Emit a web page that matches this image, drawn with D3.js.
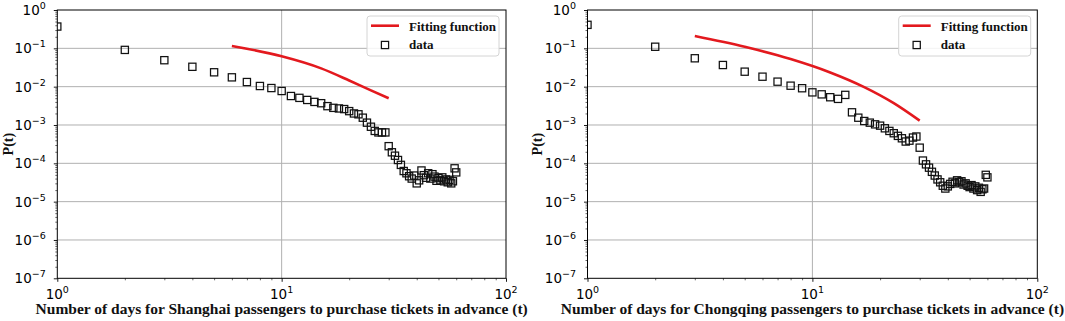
<!DOCTYPE html>
<html><head><meta charset="utf-8">
<script src="https://cdn.jsdelivr.net/npm/d3@7"></script>
<style>body{margin:0;background:#fff}</style>
</head><body><svg id="c" width="1065" height="321" xmlns="http://www.w3.org/2000/svg"></svg>
<script>
// ---------- data ----------
const days = [1,2,3,4,5,6,7,8,9,10,11,12,13,14,15,16,17,18,19,20,21,22,23,24,25,26,27,28,29,30,
              31,32,33,34,35,36,37,38,39,40,41,42,43,44,45,46,47,48,49,50,51,52,53,54,55,56,57,58,59,60];
const shanghaiP = [0.37,0.091,0.049,0.033,0.0237,0.0175,0.0132,0.0104,0.0092,0.0077,
  0.0057,0.0051,0.0045,0.0040,0.0037,0.0031,0.0028,0.0027,0.0026,0.0023,
  0.0020,0.0019,0.00155,0.00115,0.0009,0.0007,0.00064,0.00064,0.00064,0.00028,
  0.000194,0.000158,0.000122,0.000091,0.000063,0.000055,0.000046,0.000040,0.000048,0.000030,
  0.000036,0.000065,0.000049,0.000042,0.000055,0.000040,0.000052,0.000045,0.000035,0.000041,
  0.000036,0.000043,0.000034,0.000038,0.000032,0.000037,0.000030,0.000034,0.000074,0.000058];
const chongqingP = [0.41,0.11,0.055,0.0367,0.0246,0.0182,0.0135,0.0106,0.0091,0.0071,
  0.0063,0.0053,0.0048,0.0061,0.00214,0.00155,0.00127,0.00115,0.00104,0.00096,
  0.00082,0.0007,0.00061,0.00052,0.00045,0.00037,0.00039,0.00047,0.00050,0.000256,
  0.000118,0.000094,0.000077,0.000060,0.000048,0.000038,0.000032,0.000026,0.000022,0.000025,
  0.000029,0.000033,0.000030,0.000036,0.000032,0.000034,0.000028,0.000030,0.000026,0.000024,
  0.000027,0.000022,0.000025,0.000020,0.000023,0.000018,0.000021,0.000022,0.000050,0.000043];
const shanghaiFitT = [6,10,15,20,25,30];
const shanghaiFitP = [0.115,0.062,0.030,0.0145,0.0080,0.0050];
const chongqingFitT = [3,5,8,12,17,23,30];
const chongqingFitP = [0.21,0.110,0.0526,0.0235,0.00975,0.00372,0.0013];
const xTickVals = [1,10,100];
const xTickExps = ["0","1","2"];
const yTickVals = [1,1e-1,1e-2,1e-3,1e-4,1e-5,1e-6,1e-7];
const yTickExps = ["0","\u22121","\u22122","\u22123","\u22124","\u22125","\u22126","\u22127"];
const cities = ["Shanghai","Chongqing"];
const legendLabels = ["Fitting function","data"];
const yLabel = "P(t)";

// ---------- drawing ----------
const svg = d3.select("#c");
const panels = [
  {x0:57.3, x1:506, t:days, p:shanghaiP, ft:shanghaiFitT, fp:shanghaiFitP, city:cities[0], lx:367, ylx:12.5},
  {x0:587.5, x1:1037.3, t:days, p:chongqingP, ft:chongqingFitT, fp:chongqingFitP, city:cities[1], lx:898.7, ylx:542}
];
const y0 = 10, y1 = 278.3;
const red = "#e3191e";
const tickFont = "'DejaVu Sans', sans-serif";
const serif = "'Liberation Serif', 'Times New Roman', serif";

panels.forEach((P, i) => {
  const x = d3.scaleLog().domain([1,100]).range([P.x0, P.x1]);
  const y = d3.scaleLog().domain([1e-7,1]).range([y1, y0]);
  const g = svg.append("g");
  const clipId = "clip" + i;
  svg.append("clipPath").attr("id", clipId).append("rect")
    .attr("x", P.x0).attr("y", y0).attr("width", P.x1 - P.x0).attr("height", y1 - y0);

  // grid
  const grid = g.append("g").attr("stroke", "#b0b0b0").attr("stroke-width", 1);
  xTickVals.forEach(v => {
    const px = x(v);
    if (px > P.x0 + 1 && px < P.x1 - 1)
      grid.append("line").attr("x1", px).attr("x2", px).attr("y1", y0).attr("y2", y1);
  });
  yTickVals.forEach(v => {
    const py = y(v);
    if (py > y0 + 1 && py < y1 - 1)
      grid.append("line").attr("x1", P.x0).attr("x2", P.x1).attr("y1", py).attr("y2", py);
  });

  // axes via d3
  const minorX = [];
  [1,10].forEach(d => { for (let k = 2; k <= 9; k++) minorX.push(k * d); });
  const minorY = [];
  for (let e = -7; e < 0; e++) for (let k = 2; k <= 9; k++) minorY.push(k * Math.pow(10, e));

  const xAxisMinor = d3.axisBottom(x).tickValues(minorX).tickSize(2).tickFormat("");
  const xAxisMajor = d3.axisBottom(x).tickValues(xTickVals).tickSize(3.5).tickFormat("");
  const yAxisMinor = d3.axisLeft(y).tickValues(minorY).tickSize(2).tickFormat("");
  const yAxisMajor = d3.axisLeft(y).tickValues(yTickVals).tickSize(3.5).tickFormat("");
  [[xAxisMinor,0.6],[xAxisMajor,0.9]].forEach(([ax,w]) => {
    const a = g.append("g").attr("transform", `translate(0,${y1})`).call(ax);
    a.select(".domain").remove();
    a.selectAll("line").attr("stroke", "#000").attr("stroke-width", w);
  });
  [[yAxisMinor,0.6],[yAxisMajor,0.9]].forEach(([ax,w]) => {
    const a = g.append("g").attr("transform", `translate(${P.x0},0)`).call(ax);
    a.select(".domain").remove();
    a.selectAll("line").attr("stroke", "#000").attr("stroke-width", w);
  });

  // tick labels
  xTickVals.forEach((v, j) => {
    const t = g.append("text").attr("x", x(v)).attr("y", 298.5)
      .attr("text-anchor", "middle").attr("font-family", tickFont).attr("font-size", 13.5).attr("fill", "#000");
    t.append("tspan").text("10");
    t.append("tspan").attr("dy", -6).attr("font-size", 9.5).text(xTickExps[j]);
  });
  yTickVals.forEach((v, j) => {
    const t = g.append("text").attr("x", P.x0 - 11.5).attr("y", y(v) + 5)
      .attr("text-anchor", "end").attr("font-family", tickFont).attr("font-size", 13.5).attr("fill", "#000");
    t.append("tspan").text("10");
    t.append("tspan").attr("dy", -6).attr("font-size", 9.5).text(yTickExps[j]);
  });

  // data markers
  const pts = g.append("g").attr("clip-path", `url(#${clipId})`);
  pts.selectAll("rect").data(P.t.map((t, k) => [t, P.p[k]])).join("rect")
    .attr("x", d => x(d[0]) - 3.6).attr("y", d => y(d[1]) - 3.6)
    .attr("width", 7.2).attr("height", 7.2)
    .attr("fill", "none").attr("stroke", "#111").attr("stroke-width", 1.25);

  // fit line
  const line = d3.line().x(d => x(d[0])).y(d => y(d[1])).curve(d3.curveMonotoneX);
  g.append("path").datum(P.ft.map((t, k) => [t, P.fp[k]]))
    .attr("d", line).attr("fill", "none").attr("stroke", red).attr("stroke-width", 2.6);

  // spines
  g.append("rect").attr("x", P.x0).attr("y", y0).attr("width", P.x1 - P.x0).attr("height", y1 - y0)
    .attr("fill", "none").attr("stroke", "#000").attr("stroke-width", 1);

  // legend
  const L = g.append("g").attr("transform", `translate(${P.lx},16)`);
  L.append("rect").attr("width", 132).attr("height", 40).attr("rx", 3)
    .attr("fill", "#fff").attr("fill-opacity", 0.85).attr("stroke", "#d4d4d4").attr("stroke-width", 1);
  L.append("line").attr("x1", 4).attr("x2", 32).attr("y1", 9.7).attr("y2", 9.7)
    .attr("stroke", red).attr("stroke-width", 2.6);
  L.append("rect").attr("x", 18 - 3.6).attr("y", 29 - 3.6).attr("width", 7.2).attr("height", 7.2)
    .attr("fill", "none").attr("stroke", "#111").attr("stroke-width", 1.25);
  legendLabels.forEach((s, k) => {
    L.append("text").attr("x", 42).attr("y", k === 0 ? 14.5 : 32.5)
      .attr("font-family", serif).attr("font-weight", "bold").attr("font-size", 13)
      .attr("fill", "#111").text(s);
  });

  // axis labels
  g.append("text").attr("x", (P.x0 + P.x1) / 2).attr("y", 313.5).attr("text-anchor", "middle")
    .attr("font-family", serif).attr("font-weight", "bold").attr("font-size", 15.5).attr("fill", "#111")
    .text(`Number of days for ${P.city} passengers to purchase tickets in advance (t)`);
  g.append("text").attr("transform", `translate(${P.ylx},${(y0 + y1) / 2}) rotate(-90)`)
    .attr("text-anchor", "middle").attr("font-family", serif).attr("font-weight", "bold")
    .attr("font-size", 14).attr("fill", "#111").text(yLabel);
});
</script></body></html>
